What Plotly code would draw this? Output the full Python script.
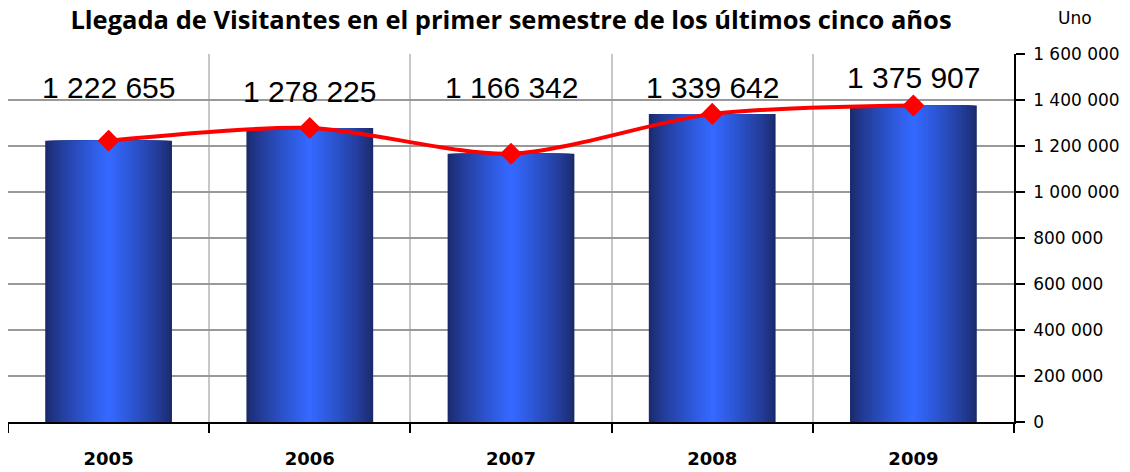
import plotly.graph_objects as go

years = ["2005", "2006", "2007", "2008", "2009"]
visitors = [1222655, 1278225, 1166342, 1339642, 1375907]
label_texts = ["1 222 655", "1 278 225", "1 166 342", "1 339 642", "1 375 907"]
y_tickvals = [0, 200000, 400000, 600000, 800000, 1000000, 1200000, 1400000, 1600000]

W, H = 1130, 472
ML, MR, MT, MB = 0, 124, 46, 58
PW = W - ML - MR
PH = H - MT - MB

fig = go.Figure()

# Simulated horizontal gradient on bars via overlaid layers
dark = (27, 42, 108)
bright = (52, 104, 255)
N = 26
bar_w = 0.63
for i in range(N):
    t = i / (N - 1)
    f = t ** 0.8
    c = tuple(int(round(dark[k] + (bright[k] - dark[k]) * f)) for k in range(3))
    w = bar_w * (1 - i / N)
    fig.add_trace(go.Bar(
        x=years, y=visitors, width=w,
        marker=dict(color="rgb(%d,%d,%d)" % c, line=dict(width=0)),
        hoverinfo="skip" if i else "y", showlegend=False,
    ))

fig.add_trace(go.Scatter(
    x=years, y=visitors, mode="lines+markers",
    line=dict(color="#ff0000", width=4, shape="spline", smoothing=0.8),
    marker=dict(symbol="diamond", size=17, color="#ff0000"),
    showlegend=False,
))

label_paper_y = [0.910, 0.897, 0.908, 0.910, 0.9375]
for idx, (txt, py) in enumerate(zip(label_texts, label_paper_y)):
    fig.add_annotation(x=idx, y=py, xref="x", yref="paper", text=txt, showarrow=False,
                       font=dict(family="Liberation Sans, Arial", size=30, color="black"),
                       yanchor="middle", xanchor="center")

fig.add_annotation(x=1067 / PW, y=1 + (MT - 10) / PH, xref="paper", yref="paper",
                   text="Uno", showarrow=False, yanchor="middle", xanchor="center",
                   font=dict(family="DejaVu Sans", size=17, color="black"))

fig.update_layout(
    width=W, height=H,
    margin=dict(l=ML, r=MR, t=MT, b=MB, autoexpand=False),
    paper_bgcolor="white", plot_bgcolor="white",
    barmode="overlay",
    separators=". ",
    title=dict(text="<b>Llegada de Visitantes en el primer semestre de los últimos cinco años</b>",
               x=503 / W, xanchor="center", y=1 - 12 / H, yanchor="middle",
               font=dict(family="Open Sans", size=25.5, color="black")),
    xaxis=dict(
        type="category", tickson="boundaries", ticks="outside", ticklen=9, tickcolor="black",
        tickwidth=1.5, showline=True, linecolor="black", linewidth=1.5,
        showgrid=True, gridcolor="#c8c8c8", gridwidth=2,
        tickfont=dict(family="DejaVu Sans", size=18, color="black"),
        tickprefix="<b>", ticksuffix="</b>",
        ticklabelstandoff=20,
        range=[-0.5, 4.5],
    ),
    yaxis=dict(
        side="right", range=[0, 1600000], tickvals=y_tickvals, tickformat=",d",
        ticks="outside", ticklen=9, tickcolor="black", tickwidth=1.5,
        showline=True, linecolor="black", linewidth=1.5,
        showgrid=True, gridcolor="#999999", gridwidth=2,
        tickfont=dict(family="DejaVu Sans", size=17, color="black"),
        ticklabelstandoff=5,
        zeroline=False,
    ),
)

fig.write_html("out.html")
